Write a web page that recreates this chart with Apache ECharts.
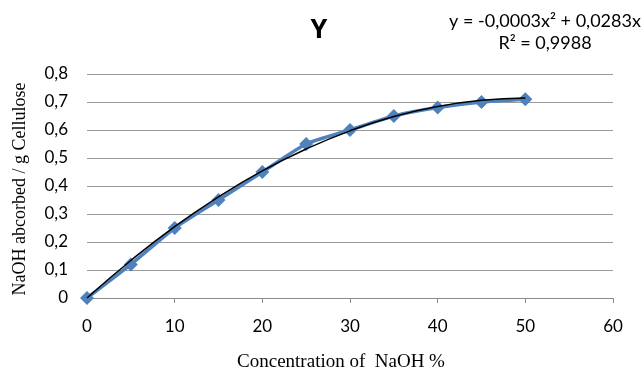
<!DOCTYPE html>
<html><head><meta charset="utf-8">
<script src="https://cdn.jsdelivr.net/npm/echarts@6/dist/echarts.min.js"></script>
<style>html,body{margin:0;padding:0;background:#fff}#c{width:642px;height:374px}</style>
</head><body><div id="c"></div>
<script>
const concentration = [0, 5, 10, 15, 20, 25, 30, 35, 40, 45, 50];
const absorbed = [0, 0.12, 0.25, 0.35, 0.45, 0.55, 0.60, 0.65, 0.68, 0.70, 0.71];
const trendX = [0, 5, 10, 15, 20, 25, 30, 35, 40, 45, 50];
const trendY = [0, 0.134, 0.255, 0.361, 0.454, 0.532, 0.597, 0.648, 0.684, 0.706, 0.714];
const titleText = 'Y';
const eqText = 'y = -0,0003x² + 0,0283x';
const r2Text = 'R² = 0,9988';
const xName = 'Concentration of  NaOH %';
const yName = 'NaOH abcorbed / g Cellulose';

const chart = echarts.init(document.getElementById('c'), null, {renderer: 'canvas'});
const fmt = v => v === 0 ? '0' : String(Math.round(v * 10) / 10).replace('.', ',');
chart.setOption({
  animation: false,
  title: {text: titleText, left: 314, top: 12, textAlign: 'center',
    textStyle: {fontFamily: 'Open Sans', fontSize: 27, fontWeight: 'bold', color: '#000'}},
  graphic: [
    {type: 'text', x: 545, y: 21, style: {text: eqText, font: '18px Lato', fill: '#000', textAlign: 'center', textVerticalAlign: 'middle'}},
    {type: 'text', x: 545, y: 43, style: {text: r2Text, font: '18px Lato', fill: '#000', textAlign: 'center', textVerticalAlign: 'middle'}},
    {type: 'text', x: 341, y: 362, style: {text: xName, font: '19px "Liberation Serif"', fill: '#000', textAlign: 'center', textVerticalAlign: 'middle'}},
    {type: 'text', x: 20, y: 189, rotation: Math.PI / 2, style: {text: yName, font: '18px "Liberation Serif"', fill: '#000', textAlign: 'center', textVerticalAlign: 'middle'}}
  ],
  grid: {left: 87, right: 29, top: 74, bottom: 76, outerBoundsMode: 'none', containLabel: false},
  xAxis: {type: 'value', min: 0, max: 60, interval: 10,
    axisLine: {show: true, lineStyle: {color: '#8c8c8c'}},
    axisTick: {show: true, length: 5, lineStyle: {color: '#8c8c8c'}},
    axisLabel: {fontFamily: 'Lato', fontSize: 17, color: '#000', margin: 20},
    splitLine: {show: false}},
  yAxis: {type: 'value', min: 0, max: 0.8, interval: 0.1,
    axisLine: {show: false}, axisTick: {show: false},
    axisLabel: {fontFamily: 'Lato', fontSize: 17, color: '#000', margin: 19, formatter: fmt},
    splitLine: {show: true, lineStyle: {color: '#9a9a9a', width: 1}}},
  series: [
    {type: 'line', data: concentration.map((x, i) => [x, absorbed[i]]),
      symbol: 'diamond', symbolSize: 14, smooth: 0.2,
      lineStyle: {color: '#4F81BD', width: 3.5},
      itemStyle: {color: '#4F81BD'}, z: 2},
    {type: 'line', data: trendX.map((x, i) => [x, trendY[i]]),
      symbol: 'none', smooth: true,
      lineStyle: {color: '#000', width: 1.5}, z: 3}
  ]
});
</script></body></html>
